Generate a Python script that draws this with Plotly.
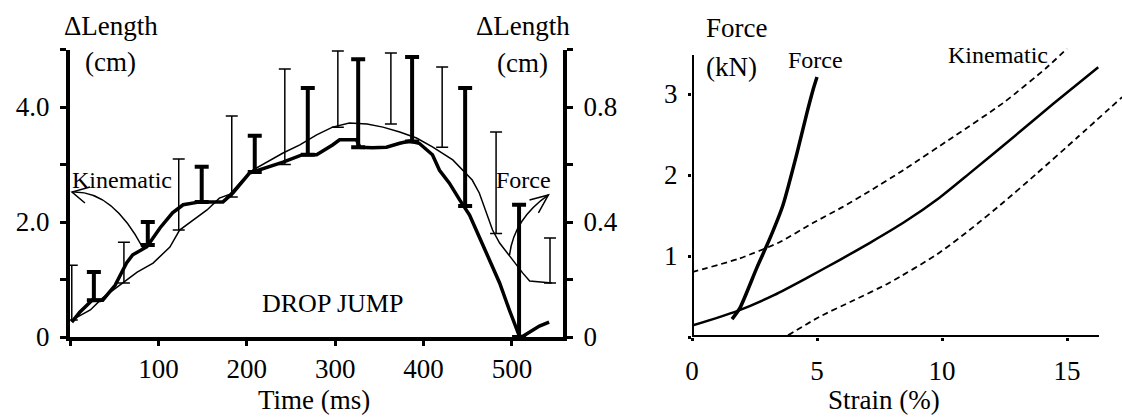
import plotly.graph_objects as go

# ---------------- Left panel: DROP JUMP ----------------
# Kinematic (thick) length change, cm (left axis)
time_kin = [2, 11, 25, 37, 51, 64, 71, 87, 102, 116, 128, 147, 173, 184, 203, 226, 241, 263, 279, 297,
            305, 324, 328, 342, 358, 373, 384, 395, 410, 418, 429, 441, 452, 463, 475, 486, 497, 508,
            511, 523, 531, 542]
len_kin = [0.26, 0.43, 0.64, 0.64, 0.90, 1.29, 1.43, 1.57, 1.90, 2.16, 2.30, 2.35, 2.35, 2.50, 2.85, 2.96,
           3.04, 3.17, 3.17, 3.34, 3.43, 3.43, 3.30, 3.29, 3.30, 3.37, 3.41, 3.37, 3.17, 2.90, 2.68, 2.38,
           2.12, 1.74, 1.34, 0.94, 0.47, 0.03, 0.0, 0.12, 0.19, 0.26]
kin_bar_t = [27, 88, 149, 209, 269, 326, 387, 447, 508]
kin_bar_base = [0.64, 1.60, 2.35, 2.87, 3.17, 3.30, 3.40, 2.28, 0.0]
kin_bar_top = [1.13, 2.00, 2.96, 3.50, 4.33, 4.83, 4.87, 4.33, 2.30]

# Force-based (thin) length change, right-axis units
time_force = [2, 23, 37, 60, 76, 94, 113, 124, 139, 155, 169, 181, 195, 207, 241, 260, 279, 297, 316,
              336, 354, 373, 392, 410, 433, 455, 463, 469, 478, 486, 497, 512, 520, 545]
len_force = [0.059, 0.094, 0.136, 0.188, 0.226, 0.257, 0.313, 0.372, 0.407, 0.442, 0.483, 0.497, 0.546,
             0.581, 0.640, 0.668, 0.703, 0.730, 0.744, 0.741, 0.730, 0.713, 0.692, 0.661, 0.616, 0.546,
             0.501, 0.452, 0.372, 0.327, 0.282, 0.223, 0.195, 0.188]
force_bar_t = [2, 61, 123, 183, 243, 303, 363, 421, 482, 543]
force_bar_base = [0.059, 0.188, 0.372, 0.487, 0.600, 0.730, 0.741, 0.660, 0.360, 0.188]
force_bar_top = [0.250, 0.330, 0.619, 0.769, 0.932, 0.995, 0.988, 0.939, 0.713, 0.344]

left_x_ticks = [0, 100, 200, 300, 400, 500]
left_x_text = ["", "100", "200", "300", "400", "500"]
left_y_ticks = [0, 1, 2, 3, 4, 5]
left_y_text = ["0", "", "2.0", "", "4.0", ""]
right_y_ticks = [0, 0.2, 0.4, 0.6, 0.8, 1.0]
right_y_text = ["0", "", "0.4", "", "0.8", ""]

# ---------------- Right panel: Force vs Strain ----------------
strain_force = [1.60, 1.92, 2.60, 3.12, 3.64, 4.20, 4.60, 4.84, 5.0]
force_force = [0.22, 0.36, 0.86, 1.22, 1.63, 2.27, 2.77, 3.05, 3.21]

strain_kin = [0.0, 1.8, 3.3, 4.6, 5.9, 7.1, 8.45, 9.9, 11.1, 13.1, 14.45, 16.25]
force_kin = [0.14, 0.32, 0.52, 0.73, 0.95, 1.16, 1.41, 1.72, 2.02, 2.53, 2.88, 3.33]

strain_upper = [0.0, 1.9, 3.5, 4.85, 6.0, 7.1, 8.45, 10.45, 12.45, 14.2, 15.0]
force_upper = [0.80, 0.97, 1.17, 1.41, 1.60, 1.80, 2.06, 2.47, 2.89, 3.33, 3.56]

strain_lower = [3.84, 5.1, 6.45, 7.9, 9.8, 11.1, 12.45, 13.8, 15.4, 17.2]
force_lower = [0.02, 0.25, 0.45, 0.67, 1.02, 1.32, 1.66, 2.02, 2.46, 2.96]

right_x_ticks = [0, 5, 10, 15]
right_x_text = ["0", "5", "10", "15"]
right2_y_ticks = [0, 1, 2, 3]
right2_y_text = ["", "1", "2", "3"]

FONT = "Liberation Serif, Times New Roman, serif"
W, H = 1122, 419

fig = go.Figure()

fig.add_trace(go.Scatter(x=time_kin, y=len_kin, mode="lines", line=dict(color="black", width=3.5),
                         xaxis="x", yaxis="y", showlegend=False, hoverinfo="skip"))
fig.add_trace(go.Scatter(
    x=kin_bar_t, y=kin_bar_base, mode="markers",
    marker=dict(size=1, color="rgba(0,0,0,0)"),
    error_y=dict(type="data", symmetric=False,
                 array=[t - b for t, b in zip(kin_bar_top, kin_bar_base)],
                 arrayminus=[0] * len(kin_bar_t), color="black", thickness=4, width=7),
    xaxis="x", yaxis="y", showlegend=False, hoverinfo="skip"))

fig.add_trace(go.Scatter(x=time_force, y=len_force, mode="lines", line=dict(color="black", width=1.5),
                         xaxis="x", yaxis="y2", showlegend=False, hoverinfo="skip"))
fig.add_trace(go.Scatter(
    x=force_bar_t, y=force_bar_base, mode="markers",
    marker=dict(size=1, color="rgba(0,0,0,0)"),
    error_y=dict(type="data", symmetric=False,
                 array=[t - b for t, b in zip(force_bar_top, force_bar_base)],
                 arrayminus=[0] * len(force_bar_t), color="black", thickness=1.5, width=6),
    xaxis="x", yaxis="y2", showlegend=False, hoverinfo="skip"))

fig.add_trace(go.Scatter(x=strain_upper, y=force_upper, mode="lines",
                         line=dict(color="black", width=1.8, dash="6px,4px", shape="spline",
                                   smoothing=0.6),
                         xaxis="x2", yaxis="y3", showlegend=False, hoverinfo="skip"))
fig.add_trace(go.Scatter(x=strain_lower, y=force_lower, mode="lines",
                         line=dict(color="black", width=1.8, dash="6px,4px", shape="spline",
                                   smoothing=0.6),
                         xaxis="x2", yaxis="y3", showlegend=False, hoverinfo="skip"))
fig.add_trace(go.Scatter(x=strain_kin, y=force_kin, mode="lines",
                         line=dict(color="black", width=2.5, shape="spline", smoothing=0.6),
                         xaxis="x2", yaxis="y3", showlegend=False, hoverinfo="skip"))
fig.add_trace(go.Scatter(x=strain_force, y=force_force, mode="lines",
                         line=dict(color="black", width=3.5, shape="spline", smoothing=0.6),
                         xaxis="x2", yaxis="y3", showlegend=False, hoverinfo="skip"))

tickfont = dict(family=FONT, size=27, color="black")
common = dict(showgrid=False, zeroline=False, automargin=False, tickcolor="black",
              tickfont=tickfont, fixedrange=True)

fig.update_layout(
    template="none",
    width=W, height=H, autosize=False,
    margin=dict(l=0, r=0, t=0, b=0, pad=0),
    paper_bgcolor="white", plot_bgcolor="white",
    showlegend=False,
    font=dict(family=FONT, color="black"),
    xaxis=dict(domain=[70 / W, 563 / W], range=[0, 557.7], showline=True, linewidth=4,
               linecolor="black", ticks="outside", ticklen=5, tickwidth=3,
               tickvals=left_x_ticks, ticktext=left_x_text, anchor="y", **common),
    yaxis=dict(domain=[(H - 337) / H, (H - 49.5) / H], range=[0, 5], showline=True, linewidth=4,
               linecolor="black", ticks="outside", ticklen=6, tickwidth=3,
               tickvals=left_y_ticks, ticktext=left_y_text, anchor="x", ticklabelstandoff=5,
               **common),
    yaxis2=dict(overlaying="y", side="right", anchor="x", range=[0, 1], showline=True,
                linewidth=4, linecolor="black", ticks="outside", ticklen=6, tickwidth=3,
                tickvals=right_y_ticks, ticktext=right_y_text, ticklabelstandoff=5, **common),
    xaxis2=dict(domain=[692 / W, 1.0], range=[0, 17.2], showline=False, ticks="outside",
                ticklen=3, tickwidth=3, tickvals=right_x_ticks, ticktext=right_x_text,
                anchor="y3", ticklabelstandoff=7, **common),
    yaxis3=dict(domain=[(H - 337) / H, (H - 37.3) / H], range=[0, 3.7], showline=False,
                ticks="outside", ticklen=3, tickwidth=3, tickvals=right2_y_ticks,
                ticktext=right2_y_text, anchor="x2", ticklabelstandoff=5, **common),
)

fig.add_shape(type="line", xref="x2", yref="y3", x0=0, y0=0, x1=16.28, y1=0,
              line=dict(color="black", width=4))
fig.add_shape(type="line", xref="x2", yref="y3", x0=0, y0=0, x1=0, y1=3.48,
              line=dict(color="black", width=4))

fig.add_shape(type="path", xref="x", yref="y",
              path="M 82.5,1.548 Q 48.0,2.557 2.26,2.522", line=dict(color="black", width=1.5))
fig.add_shape(type="path", xref="x", yref="y",
              path="M 22.6,2.61 L 2.26,2.522 L 16.9,2.33", line=dict(color="black", width=1.5))
fig.add_shape(type="path", xref="x", yref="y",
              path="M 497.2,1.426 Q 502.3,2.052 541.2,2.470", line=dict(color="black", width=1.5))
fig.add_shape(type="path", xref="x", yref="y",
              path="M 519.8,2.383 L 541.2,2.470 L 529.9,2.157", line=dict(color="black", width=1.5))


def label(text, cx, cy, size):
    fig.add_annotation(text=text, xref="paper", yref="paper", x=cx / W, y=1 - cy / H,
                       xanchor="center", yanchor="middle", showarrow=False,
                       font=dict(family=FONT, size=size, color="black"))


label("ΔLength", 111, 26, 27)
label("(cm)", 110, 62, 27)
label("ΔLength", 523, 26, 27)
label("(cm)", 522, 63, 27)
label("Kinematic", 122, 180, 24)
label("Force", 523, 180, 24)
label("DROP JUMP", 332, 303, 26)
label("Time (ms)", 314, 400, 27)
label("Force", 736, 28, 27)
label("(kN)", 731, 67, 27)
label("Force", 815, 60, 24)
label("Kinematic", 998, 55, 24)
label("Strain (%)", 884, 400, 27)

fig.write_html("out.html")
